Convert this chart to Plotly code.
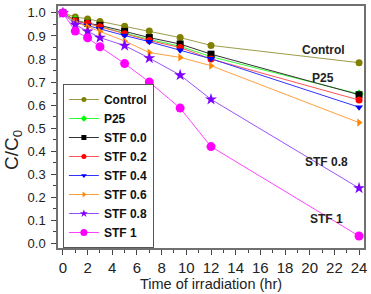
import plotly.graph_objects as go

time = [0, 1, 2, 3, 5, 7, 9.5, 12, 24]
names = ["Control", "P25", "STF 0.0", "STF 0.2", "STF 0.4", "STF 0.6", "STF 0.8", "STF 1"]
control = [1.0, 0.982, 0.974, 0.963, 0.942, 0.922, 0.893, 0.859, 0.784]
p25 = [1.0, 0.970, 0.955, 0.940, 0.912, 0.885, 0.855, 0.810, 0.648]
stf00 = [1.0, 0.965, 0.955, 0.946, 0.920, 0.893, 0.865, 0.821, 0.645]
stf02 = [1.0, 0.965, 0.955, 0.940, 0.910, 0.880, 0.850, 0.800, 0.622]
stf04 = [1.0, 0.960, 0.945, 0.930, 0.902, 0.875, 0.838, 0.801, 0.591]
stf06 = [1.0, 0.960, 0.940, 0.920, 0.878, 0.828, 0.807, 0.771, 0.524]
stf08 = [1.0, 0.949, 0.920, 0.893, 0.858, 0.804, 0.730, 0.625, 0.240]
stf1 = [1.0, 0.921, 0.892, 0.853, 0.780, 0.700, 0.587, 0.420, 0.032]
series = [control, p25, stf00, stf02, stf04, stf06, stf08, stf1]

label_text = ["Control", "P25", "STF 0.8", "STF 1"]
label_x = [21.1, 21.1, 21.4, 21.4]
label_y = [0.839, 0.716, 0.352, 0.104]

marker_colors = ["#808000", "#00ff00", "#000000", "#ff0000", "#0000ff", "#ff8800", "#8000ff", "#ff00ff"]
line_colors = ["#9c9c4a", "#33ff33", "#333333", "#ff5555", "#3333ff", "#ffa040", "#9a50ff", "#ff44ff"]
symbols = ["circle", "diamond", "square", "circle", "triangle-down", "triangle-right", "star", "circle"]
sizes = [7, 7, 7, 7, 7, 7, 9, 9]
leg_sizes = [5, 5, 5, 5, 5, 5, 6, 7]

fig = go.Figure()
for nm, ys, mc, lc, sy, sz in zip(names, series, marker_colors, line_colors, symbols, sizes):
    fig.add_trace(go.Scatter(
        x=time, y=ys, name=nm, mode="lines+markers", legendgroup=nm, showlegend=False,
        line=dict(color=lc, width=1),
        marker=dict(color=mc, symbol=sy, size=sz, line=dict(width=0)),
    ))
for nm, mc, lc, sy, sz in zip(names, marker_colors, line_colors, symbols, leg_sizes):
    fig.add_trace(go.Scatter(
        x=[None], y=[None], name=nm, mode="lines+markers", legendgroup=nm, showlegend=True,
        line=dict(color=lc, width=1),
        marker=dict(color=mc, symbol=sy, size=sz, line=dict(width=0)),
    ))

ann = []
for t, xv, yv in zip(label_text, label_x, label_y):
    ann.append(dict(x=xv, y=yv, xref="x", yref="y", text="<b>%s</b>" % t, showarrow=False,
                    font=dict(family="Arial, Liberation Sans", size=12, color="#222")))
ann.append(dict(x=(12 - 58) / (371 - 58 - 5), y=(250 - 150) / (250 - 4), xref="paper", yref="paper",
                text="C/C<sub>0</sub>", showarrow=False, textangle=-90,
                xanchor="center", yanchor="middle",
                font=dict(family="Arial, Liberation Sans", size=19, color="#222")))

fig.update_layout(
    width=371, height=294,
    margin=dict(l=58, r=5, t=4, b=44),
    paper_bgcolor="white", plot_bgcolor="white",
    font=dict(family="Arial, Liberation Sans", color="#222"),
    annotations=ann,
    showlegend=True,
    legend=dict(x=0.016, y=0.0, xanchor="left", yanchor="bottom",
                bordercolor="#555", borderwidth=1, bgcolor="white",
                font=dict(size=12, family="Arial, Liberation Sans", color="#111", weight="bold"),
                tracegroupgap=0, itemwidth=30),
    xaxis=dict(range=[-0.4, 24.4], dtick=2, tick0=0, showgrid=False, zeroline=False,
               showline=True, linecolor="#707070", linewidth=1.5, mirror=True,
               ticks="outside", ticklen=5, tickcolor="#444",
               minor=dict(dtick=1, ticks="outside", ticklen=3, tickcolor="#444"),
               tickfont=dict(size=15),
               title=dict(text="Time of irradiation (hr)", font=dict(size=14.5), standoff=4)),
    yaxis=dict(range=[-0.02, 1.03], dtick=0.1, tick0=0, tickformat=".1f", showgrid=False, zeroline=False,
               showline=True, linecolor="#707070", linewidth=1.5, mirror=True,
               ticks="outside", ticklen=5, tickcolor="#444",
               minor=dict(dtick=0.05, ticks="outside", ticklen=3, tickcolor="#444"),
               tickfont=dict(size=13), ticklabelstandoff=3),
)

fig.write_html("out.html")
